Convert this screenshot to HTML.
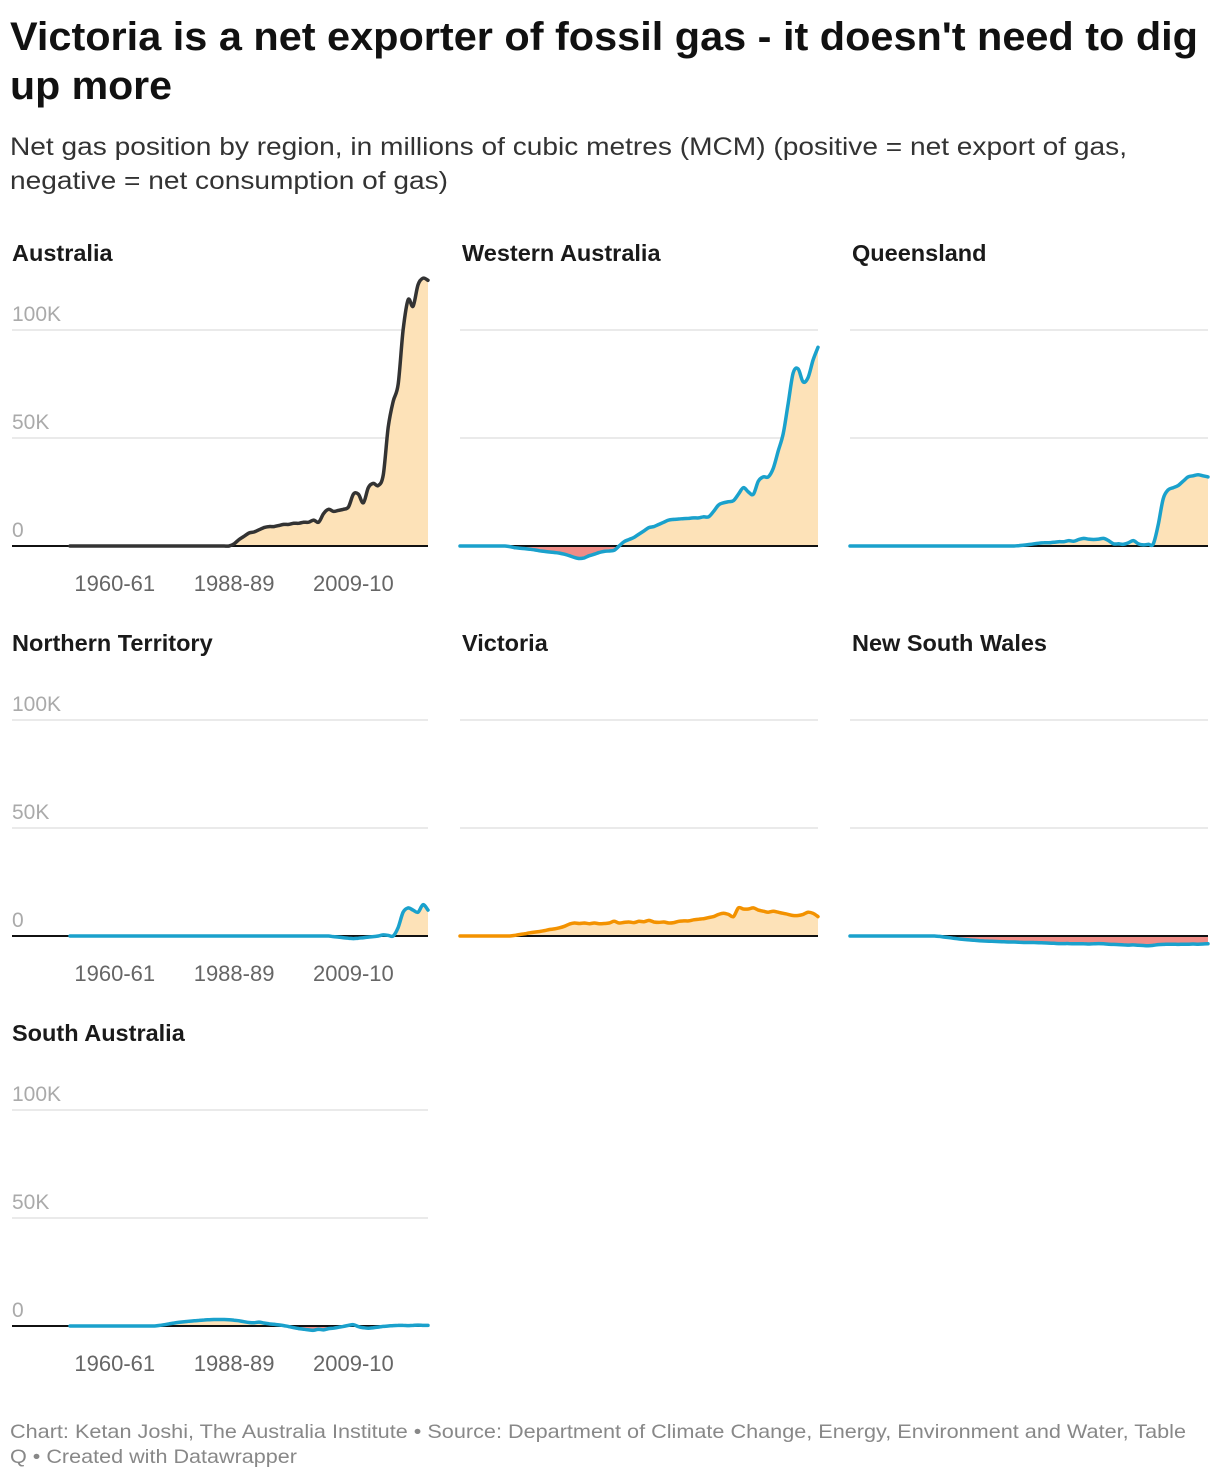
<!DOCTYPE html>
<html><head><meta charset="utf-8"><style>
html,body{margin:0;padding:0;background:#fff;width:1220px;height:1480px;overflow:hidden}
svg{display:block;font-family:"Liberation Sans",sans-serif}
</style></head><body>
<svg id="chart" width="1220" height="1480" viewBox="0 0 1220 1480" xmlns="http://www.w3.org/2000/svg">
<text x="10" y="50" font-size="40" font-weight="bold" fill="#111" textLength="1188" lengthAdjust="spacingAndGlyphs">Victoria is a net exporter of fossil gas - it doesn't need to dig</text>
<text x="10" y="99" font-size="40" font-weight="bold" fill="#111" textLength="162" lengthAdjust="spacingAndGlyphs">up more</text>
<text x="10" y="155" font-size="25" fill="#333" textLength="1117" lengthAdjust="spacingAndGlyphs">Net gas position by region, in millions of cubic metres (MCM) (positive = net export of gas,</text>
<text x="10" y="189" font-size="25" fill="#333" textLength="438" lengthAdjust="spacingAndGlyphs">negative = net consumption of gas)</text>
<text x="10" y="1438" font-size="19.5" fill="#888" textLength="1176" lengthAdjust="spacingAndGlyphs">Chart: Ketan Joshi, The Australia Institute • Source: Department of Climate Change, Energy, Environment and Water, Table</text>
<text x="10" y="1463" font-size="19.5" fill="#888" textLength="287" lengthAdjust="spacingAndGlyphs">Q • Created with Datawrapper</text>
<g id="panels"></g>
</svg>
<script>
const regions = ["Australia","Western Australia","Queensland","Northern Territory","Victoria","New South Wales","South Australia"];
const australia = [0,0,0,0,0,0,0,0,0,0,0,0,0,0,0,0,0,0,0,0,0,0,0,0,0,0,0,0,0,0,0,0,0,1,3,4.5,6,6.5,7.5,8.5,9,9,9.5,10,10,10.5,10.5,11,11,12,11,15,17,16,16.5,17,18,24,24,20,27,29,28,33,55,67,75,100,114,111,121,124,123];
const westernAustralia = [0,0,0,0,0,0,0,0,0,0,-0.3,-0.8,-1,-1.2,-1.5,-1.8,-2.2,-2.5,-2.8,-3,-3.3,-3.8,-4.5,-5.3,-5.8,-5.5,-4.5,-3.8,-3,-2.5,-2.3,-2,0,2,3,4,5.5,7,8.5,9,10,11,12,12.3,12.5,12.7,12.8,13,13,13.5,13.5,16,19,20,20.5,21,24,27,25,24,30,32,32,36,44,52,66,80,82,76,78,86,92];
const queensland = [0,0,0,0,0,0,0,0,0,0,0,0,0,0,0,0,0,0,0,0,0,0,0,0,0,0,0,0,0,0,0,0,0,0,0.2,0.4,0.7,1,1.3,1.5,1.5,1.7,2,2,2.5,2.2,3,3.5,3.2,3,3.2,3.5,2.5,1,1,0.8,1.5,2.5,1,0.5,0.8,1,10,22,26,27,28,30,32,32.5,33,32.5,32];
const northernTerritory = [0,0,0,0,0,0,0,0,0,0,0,0,0,0,0,0,0,0,0,0,0,0,0,0,0,0,0,0,0,0,0,0,0,0,0,0,0,0,0,0,0,0,0,0,0,0,0,0,0,0,0,0,0,-0.3,-0.5,-0.8,-1,-1.2,-1,-0.8,-0.5,-0.3,0,0.5,0.3,0,4,11,13,12,11,14.5,12];
const victoria = [0,0,0,0,0,0,0,0,0,0,0,0.3,0.7,1,1.5,1.8,2.1,2.5,3,3.3,3.8,4.5,5.5,6,5.8,6,5.7,6,5.7,5.8,6,6.8,6,6.3,6.5,6.2,6.8,6.6,7.2,6.5,6.3,6.5,6,6.2,6.8,7,7,7.5,7.8,8,8.5,9,10,10.5,10,9,13,12.5,12.5,13,12,11.5,11,11.5,11,10.5,10,9.5,9.5,10,11,10.5,9];
const newSouthWales = [0,0,0,0,0,0,0,0,0,0,0,0,0,0,0,0,0,0,-0.2,-0.5,-0.8,-1.1,-1.4,-1.6,-1.8,-2,-2.2,-2.3,-2.4,-2.5,-2.6,-2.7,-2.8,-2.8,-2.9,-3,-3,-3,-3.1,-3.2,-3.3,-3.4,-3.5,-3.5,-3.5,-3.6,-3.6,-3.6,-3.7,-3.6,-3.5,-3.6,-3.8,-3.9,-4,-4.1,-4.2,-4.1,-4.3,-4.4,-4.5,-4.3,-4,-3.9,-3.8,-3.8,-3.9,-3.8,-3.8,-3.7,-3.8,-3.7,-3.6];
const southAustralia = [0,0,0,0,0,0,0,0,0,0,0,0,0,0,0,0,0,0,0.3,0.6,1,1.4,1.7,2,2.2,2.4,2.6,2.8,2.9,3,3,3,2.9,2.7,2.4,2,1.6,1.5,1.8,1.4,1,0.8,0.5,0.2,-0.3,-0.8,-1.2,-1.5,-1.8,-2,-1.5,-1.8,-1.2,-1,-0.6,-0.2,0.3,0.6,-0.3,-0.8,-1,-0.8,-0.5,-0.2,0,0.2,0.3,0.3,0.2,0.3,0.4,0.3,0.3];
const yTicks = [0,50,100];
const yTickLabels = ["0","50K","100K"];
const xTickIndex = [9,33,57];
const xTickLabels = ["1960-61","1988-89","2009-10"];

const seriesList = [australia,westernAustralia,queensland,northernTerritory,victoria,newSouthWales,southAustralia];
const colors = ["#333333","#1aa1cc","#1aa1cc","#1aa1cc","#f39200","#1aa1cc","#1aa1cc"];
const NS = "http://www.w3.org/2000/svg";
const root = document.getElementById('panels');
function mk(tag, attrs, parent){const e=document.createElementNS(NS,tag);for(const k in attrs)e.setAttribute(k,attrs[k]);parent.appendChild(e);return e;}
const colX = [[12,70,428],[460,460,818],[850,850,1208]];
const rowBase = [546,936,1326];
const pxPerK = 2.16;

function smoothPath(P){
  let d = 'M'+P[0][0].toFixed(1)+','+P[0][1].toFixed(1);
  for(let i=0;i<P.length-1;i++){
    const p0=P[Math.max(0,i-1)],p1=P[i],p2=P[i+1],p3=P[Math.min(P.length-1,i+2)];
    const c1x=p1[0]+(p2[0]-p0[0])/6,c1y=p1[1]+(p2[1]-p0[1])/6;
    const c2x=p2[0]-(p3[0]-p1[0])/6,c2y=p2[1]-(p3[1]-p1[1])/6;
    d+=' C'+c1x.toFixed(1)+','+c1y.toFixed(1)+' '+c2x.toFixed(1)+','+c2y.toFixed(1)+' '+p2[0].toFixed(1)+','+p2[1].toFixed(1);
  }
  return d;
}

seriesList.forEach((data,p)=>{
  const col = p<3 ? p : (p<6 ? p-3 : 0);
  const row = p<3 ? 0 : (p<6 ? 1 : 2);
  const [gx0, dx0, dx1] = colX[col];
  const base = rowBase[row];
  const yScale = v => base - v*pxPerK;
  const xScale = i => dx0 + i*(dx1-dx0)/(data.length-1);
  const g = mk('g',{},root);
  
  
  const t = mk('text',{x:gx0+(col>0?2:0),y:base-285,'font-size':23.5,'font-weight':'bold',fill:'#1a1a1a'},g);
  t.textContent = regions[p];
  
  
  yTicks.forEach((v,k)=>{
    if(v!==0){
      const gl = mk('line',{x1:gx0,x2:dx1,y1:yScale(v),y2:yScale(v),stroke:'#e3e3e3','stroke-width':1.5},g);
      
      
    }
    if(col===0){
      const yl = mk('text',{x:12,y:yScale(v)-9,'font-size':21,fill:'#aaaaaa'},g);
      yl.textContent = yTickLabels[k];
      
      
    }
  });
  const P = data.map((v,i)=>[xScale(i), yScale(v)]);
  const line = smoothPath(P);
  const d = line + ' L'+xScale(data.length-1)+','+base+' L'+xScale(0)+','+base+' Z';
  const cpU = mk('clipPath',{id:'cu'+p},g); mk('rect',{x:0,y:0,width:1220,height:base},cpU);
  const cpD = mk('clipPath',{id:'cd'+p},g); mk('rect',{x:0,y:base,width:1220,height:300},cpD);
  const a1 = mk('path',{d:d,fill:'#fde2b8','clip-path':'url(#cu'+p+')'},g);
  
  
  const a2 = mk('path',{d:d,fill:'#f08c87','clip-path':'url(#cd'+p+')'},g);
  
  
  const bl = mk('line',{x1:gx0,x2:dx1,y1:base,y2:base,stroke:'#111','stroke-width':2},g);
  
  
  const ln = mk('path',{d:line,fill:'none',stroke:colors[p],'stroke-width':3.5,'stroke-linejoin':'round','stroke-linecap':'round'},g);
  
  
  if(col===0){
    xTickIndex.forEach((idx,k)=>{
      const xl = mk('text',{x:xScale(idx),y:base+45,'font-size':22,fill:'#666','text-anchor':'middle'},g);
      xl.textContent = xTickLabels[k];
      
      
    });
  }
});
</script>
</body></html>
